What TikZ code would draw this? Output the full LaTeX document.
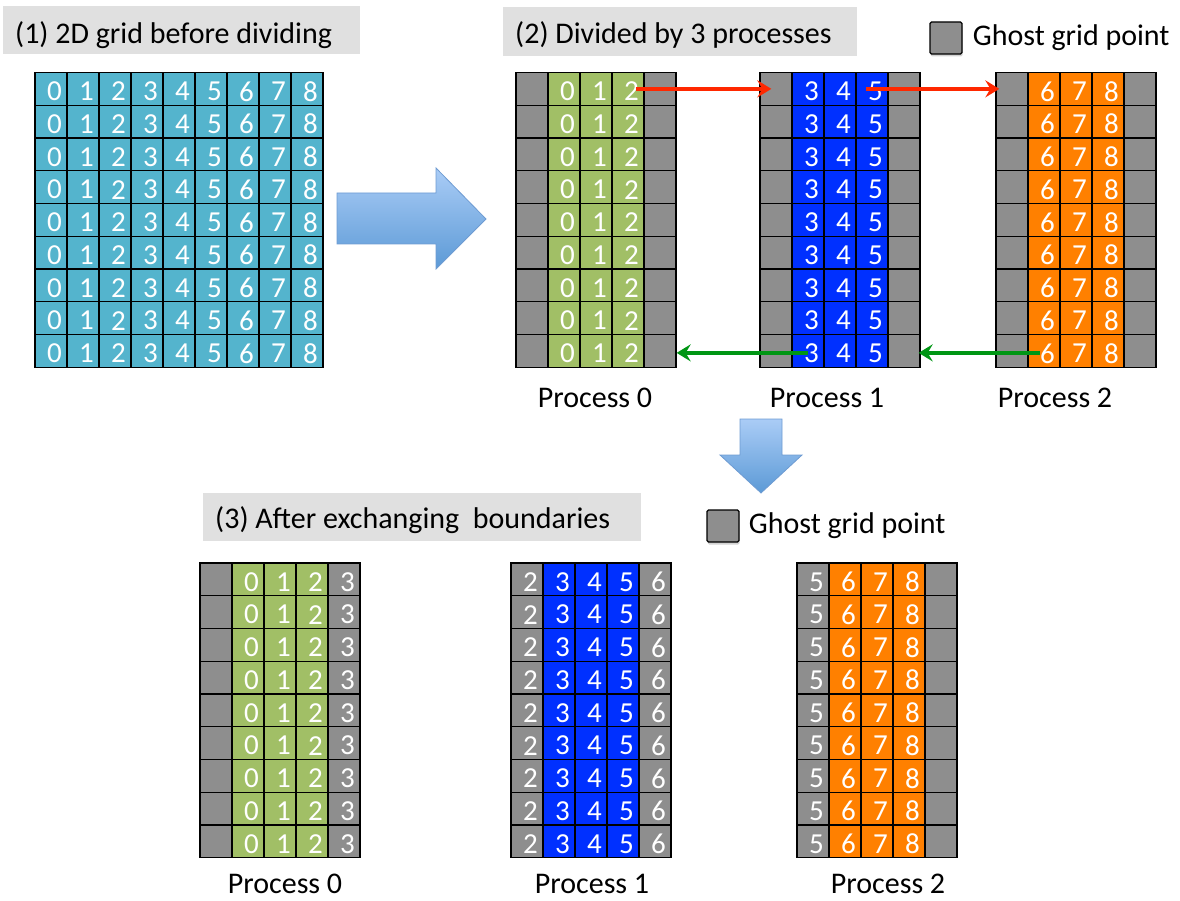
\documentclass[tikz,border=0pt]{standalone}
\usepackage{fontspec}
\setmainfont{Carlito}
\usetikzlibrary{arrows.meta}
\usetikzlibrary{positioning}
\usetikzlibrary{shadows}

\definecolor{cellcyan}{RGB}{84,180,205}
\definecolor{cellgreen}{RGB}{161,191,102}
\definecolor{cellblue}{RGB}{0,48,255}
\definecolor{cellorange}{RGB}{255,128,0}
\definecolor{ghost}{RGB}{142,142,142}
\definecolor{titlegray}{RGB}{224,224,224}
\definecolor{sendred}{RGB}{255,40,0}
\definecolor{recvgreen}{RGB}{0,150,20}
\definecolor{arrowtop}{RGB}{170,204,246}
\definecolor{arrowbot}{RGB}{92,154,214}
\definecolor{arrowline}{RGB}{110,155,210}

\tikzset{
  cell/.style={draw=black, line width=1.3pt, minimum width=32pt,
    minimum height=32.75pt, inner sep=0pt},
  num/.style={text=white, inner sep=0pt, font=\fontsize{29}{29}\selectfont},
  titlebox/.style={fill=titlegray, anchor=north west, inner xsep=12pt,
    inner ysep=9pt, align=flush left, font=\fontsize{30}{36}\selectfont},
  ghostkey/.style={draw=black, line width=1.3pt, fill=ghost, rounded corners=1.5pt,
    minimum width=32pt, minimum height=32pt, inner sep=0pt,
    drop shadow={opacity=0.35, shadow xshift=0.5pt, shadow yshift=-2.5pt}},
  keytext/.style={inner sep=0pt, font=\fontsize{30}{36}\selectfont},
  proclabel/.style={inner sep=0pt, font=\fontsize{30}{36}\selectfont},
  send/.style={sendred, line width=3.5pt, -{Stealth[length=14pt, width=17pt, inset=5pt]}},
  recv/.style={recvgreen, line width=3.5pt, -{Stealth[length=14pt, width=17pt, inset=5pt]}},
  bigarrow/.style={top color=arrowtop, bottom color=arrowbot, draw=arrowline, line width=0.8pt},
}

% one block of 9 rows: name, left x, top y, cells as fill/text
\newcommand{\procgrid}[4]{%
  \foreach \row in {1,...,9}
    \foreach \fc/\tc [count=\col] in {#4} {
      \node[cell, fill=\fc] (#1-\row-\col) at ({#2+32*\col-16}, {#3+32.75*\row-16.375}) {};
      \node[num] at ([shift={(3.5,2.5)}]#1-\row-\col.center) {\tc};
    }%
}

\begin{document}
\begin{tikzpicture}[x=1pt, y=-1pt]
    \useasboundingbox (0,0) rectangle (1180,901);

        % (1) whole grid
        \node[titlebox, text width=333pt, text height=28pt, text depth=2pt] (t1) at (3,6) {(1) 2D grid before dividing};
        \procgrid{a}{35}{72.5}{cellcyan/0, cellcyan/1, cellcyan/2, cellcyan/3, cellcyan/4,
          cellcyan/5, cellcyan/6, cellcyan/7, cellcyan/8}

        \shade[bigarrow] (337,193) -- (436,193) -- (436,168) -- (486,219)
          -- (436,269) -- (436,244) -- (337,244) -- cycle;

        % (2) divided grids
        \node[titlebox, text width=330pt, text height=27pt, text depth=4pt] (t2) at (503,7) {(2) Divided by 3 processes};
        \node[ghostkey] (key1) at (946,38) {};
        \node[keytext, right=10pt of key1] (key1t) {Ghost grid point};

        \procgrid{p}{516}{72.5}{ghost/{}, cellgreen/0, cellgreen/1, cellgreen/2, ghost/{}}
        \procgrid{q}{760}{72.5}{ghost/{}, cellblue/3, cellblue/4, cellblue/5, ghost/{}}
        \procgrid{r}{996}{72.5}{ghost/{}, cellorange/6, cellorange/7, cellorange/8, ghost/{}}

        \node[proclabel] (l0) at (595,398) {Process 0};
        \node[proclabel] (l1) at (827,398) {Process 1};
        \node[proclabel] (l2) at (1055,398) {Process 2};

        % Connect the blocks
        \draw[send] ([xshift=8pt]p-1-4.center) -- ([xshift=12pt]q-1-1.west);
        \draw[send] ([xshift=-6pt]q-1-4.center) -- ([xshift=4pt]r-1-1.west);
        \draw[recv] ([yshift=-2pt]q-9-2.center) -- ([yshift=-2pt]p-9-5.east);
        \draw[recv] ([xshift=-4pt, yshift=-2pt]r-9-2.center) -- ([xshift=-2pt, yshift=-2pt]q-9-5.east);

        \shade[bigarrow] (740,419) -- (782,419) -- (782,455) -- (802,455)
          -- (761,493) -- (720,455) -- (740,455) -- cycle;

        % (3) after exchange
        \node[titlebox, text width=414pt, text height=26pt, text depth=4pt] (t3) at (203,493) {(3) After exchanging\ \ boundaries};
        \node[ghostkey] (key2) at (723,526) {};
        \node[keytext, right=9pt of key2] (key2t) {Ghost grid point};

        \procgrid{u}{200}{563}{ghost/{}, cellgreen/0, cellgreen/1, cellgreen/2, ghost/3}
        \procgrid{v}{511}{563}{ghost/2, cellblue/3, cellblue/4, cellblue/5, ghost/6}
        \procgrid{w}{797}{563}{ghost/5, cellorange/6, cellorange/7, cellorange/8, ghost/{}}

        \node[proclabel] (m0) at (285,884) {Process 0};
        \node[proclabel] (m1) at (592,884) {Process 1};
        \node[proclabel] (m2) at (888,884) {Process 2};

\end{tikzpicture}
\end{document}
